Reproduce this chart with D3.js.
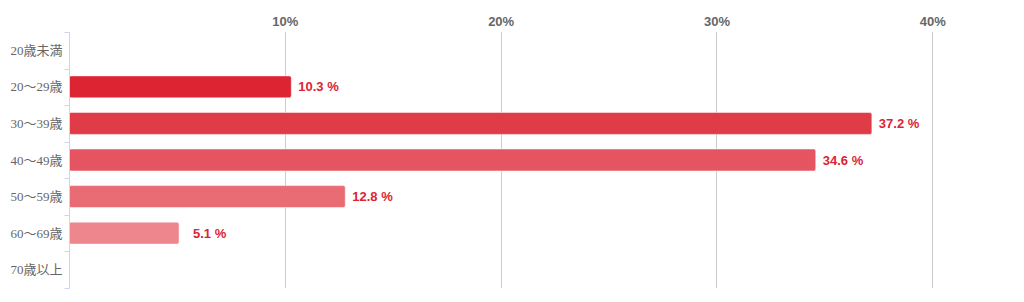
<!DOCTYPE html>
<html>
<head>
<meta charset="utf-8">
<script src="https://cdn.jsdelivr.net/npm/d3@7"></script>
<style>
  body { margin: 0; background: #fff; }
  .cat text { font-family: "Liberation Serif", "Noto Sans CJK JP", serif; font-size: 13px; fill: #666; }
  .topaxis text { font-family: "Liberation Sans", Arial, sans-serif; font-size: 13px; font-weight: bold; fill: #666; }
</style>
</head>
<body>
<script>
const categories = ["20歳未満", "20〜29歳", "30〜39歳", "40〜49歳", "50〜59歳", "60〜69歳", "70歳以上"];
const values = [0, 10.3, 37.2, 34.6, 12.8, 5.1, 0];
const colors = ["#dc2433", "#dc2433", "#e03c48", "#e55561", "#e96c75", "#ee878d", "#f0a0a5"];
const tickValues = [10, 20, 30, 40];

const width = 1024, height = 302;
const margin = {top: 32, right: 14, bottom: 14, left: 69};

const svg = d3.select("body").append("svg")
  .attr("width", width)
  .attr("height", height);

const x = d3.scaleLinear()
  .domain([0, 43.6])
  .range([margin.left, width - margin.right]);

const y = d3.scaleBand()
  .domain(categories)
  .range([margin.top, height - margin.bottom])
  .paddingInner(0.4)
  .paddingOuter(0.2);

// gridlines
svg.append("g")
  .selectAll("line")
  .data(tickValues)
  .join("line")
  .attr("x1", d => Math.round(x(d)) + 0.5)
  .attr("x2", d => Math.round(x(d)) + 0.5)
  .attr("y1", margin.top)
  .attr("y2", height - margin.bottom)
  .attr("stroke", "#cccccc");

// top tick labels
const topAxis = svg.append("g")
  .attr("class", "topaxis")
  .attr("transform", `translate(0,${margin.top})`)
  .call(d3.axisTop(x).tickValues(tickValues).tickFormat(d => d + "%").tickSize(0).tickPadding(6));
topAxis.select(".domain").remove();

// bars
svg.append("g")
  .selectAll("rect")
  .data(values)
  .join("rect")
  .attr("x", x(0))
  .attr("y", (d, i) => y(categories[i]))
  .attr("width", d => x(d) - x(0))
  .attr("height", y.bandwidth())
  .attr("rx", 2)
  .attr("fill", (d, i) => colors[i])
  .attr("stroke", "#fff")
  .attr("stroke-width", 0.5)
  .attr("display", d => d > 0 ? null : "none");

// value labels
svg.append("g")
  .selectAll("text")
  .data(values)
  .join("text")
  .attr("x", d => Math.max(x(d) + 7, x(0) + 124))
  .attr("y", (d, i) => y(categories[i]) + y.bandwidth() / 2)
  .attr("dy", "0.35em")
  .attr("font-family", "'Liberation Sans', Arial, sans-serif")
  .attr("font-size", 13)
  .attr("font-weight", "bold")
  .attr("fill", "#dc2433")
  .text(d => d > 0 ? d.toFixed(1) + " %" : "");

// left category axis
const yAxis = d3.scaleLinear().domain([0, categories.length]).range([margin.top, height - margin.bottom]);
const cat = svg.append("g")
  .attr("class", "cat")
  .attr("transform", `translate(${x(0) + 0.5},0)`);
cat.append("line")
  .attr("y1", margin.top)
  .attr("y2", height - margin.bottom)
  .attr("stroke", "#ccd6eb");
cat.selectAll("line.tk")
  .data(d3.range(categories.length + 1))
  .join("line")
  .attr("class", "tk")
  .attr("x1", -5).attr("x2", 0)
  .attr("y1", d => Math.round(yAxis(d)) + 0.5)
  .attr("y2", d => Math.round(yAxis(d)) + 0.5)
  .attr("stroke", "#ccd6eb");
cat.selectAll("text")
  .data(categories)
  .join("text")
  .attr("x", -7)
  .attr("y", d => y(d) + y.bandwidth() / 2)
  .attr("dy", "0.35em")
  .attr("text-anchor", "end")
  .text(d => d);
</script>
</body>
</html>
